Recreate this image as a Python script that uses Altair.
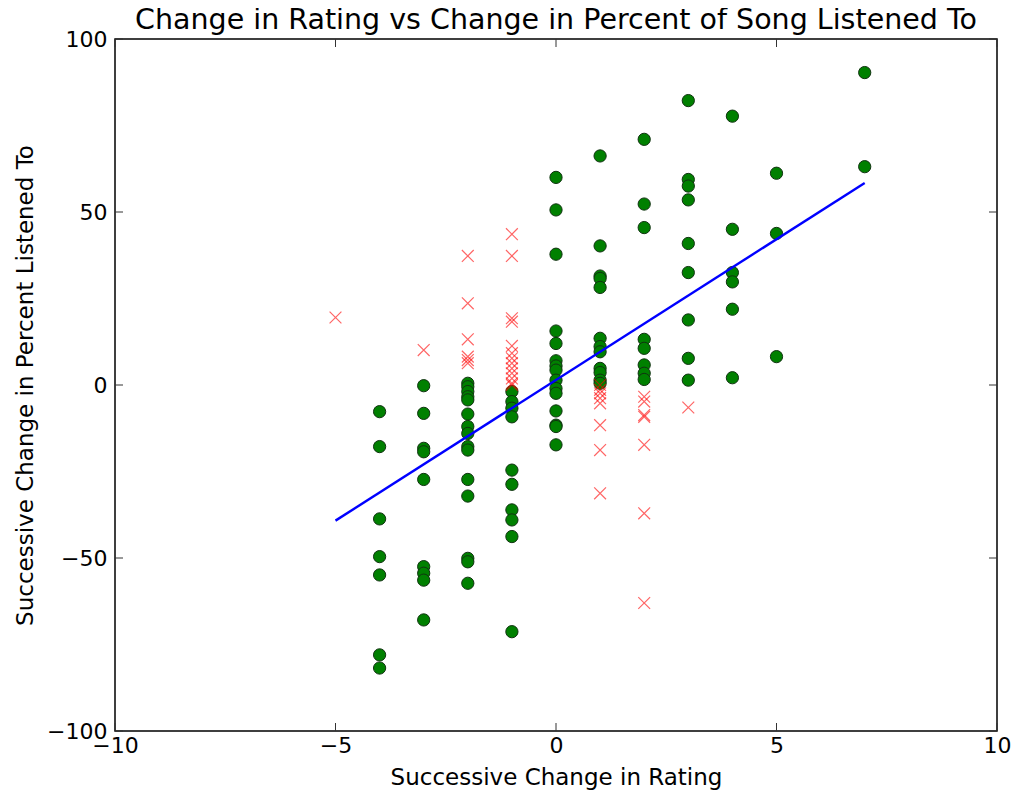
import altair as alt
import pandas as pd

# ---- data ----
green_x = ([-4] * 7 + [-3] * 9 + [-2] * 15 + [-1] * 10 + [0] * 15 + [1] * 12 +
           [2] * 8 + [3] * 9 + [4] * 6 + [5] * 3 + [7] * 2)
green_y = [
    -7.7, -17.8, -38.7, -49.6, -54.9, -78.0, -81.8,
    -0.2, -8.2, -18.3, -19.3, -27.3, -52.5, -54.4, -56.4, -67.9,
    0.5, -0.5, -1.9, -3.4, -4.3, -8.4, -12.0, -14.0, -17.8, -18.8, -27.3, -32.1, -50.1, -51.1, -57.3,
    -1.9, -4.8, -6.7, -9.2, -24.6, -28.7, -36.1, -39.0, -43.8, -71.3,
    60.0, 50.6, 37.8, 15.6, 12.0, 7.0, 5.5, 4.3, 1.4, -1.0, -2.4, -7.5, -11.6, -12.0, -17.3,
    66.2, 40.2, 31.5, 30.8, 28.2, 13.5, 11.1, 9.6, 4.8, 3.6, 1.4, 0.5,
    71.0, 52.3, 45.5, 13.2, 10.6, 5.8, 3.4, 1.6,
    82.2, 59.4, 57.5, 53.5, 40.9, 32.5, 18.8, 7.7, 1.4,
    77.7, 45.0, 32.5, 29.8, 21.9, 2.1,
    61.2, 43.8, 8.2,
    90.3, 63.1,
]

red_x = ([-5] + [-3] + [-2] * 6 + [-1] * 13 + [1] * 8 + [2] * 7 + [3])
red_y = [
    19.5,
    10.1,
    37.3, 23.6, 13.2, 8.2, 7.2, 6.3,
    43.6, 37.3, 19.3, 18.3, 11.3, 9.2, 7.7, 6.3, 4.8, 3.4, 1.9, 0.5, 0.0,
    0.0, -1.4, -2.4, -3.8, -5.3, -11.6, -18.8, -31.3,
    -3.4, -4.8, -8.7, -9.2, -17.3, -37.1, -63.0,
    -6.5,
]

fit_x = [-5, 7]
fit_y = [-39.2, 58.4]

x_ticks = [-10, -5, 0, 5, 10]
y_ticks = [-100, -50, 0, 50, 100]

W, H = 882, 692
TICK = 8
FONT = "DejaVu Sans"

green_df = pd.DataFrame({"x": green_x, "y": green_y})
red_df = pd.DataFrame({"x": red_x, "y": red_y})
fit_df = pd.DataFrame({"x": fit_x, "y": fit_y})
xt_df = pd.DataFrame({"x": x_ticks})
yt_df = pd.DataFrame({"y": y_ticks})

xscale = alt.Scale(domain=[-10, 10], nice=False, zero=False)
yscale = alt.Scale(domain=[-100, 100], nice=False, zero=False)

x_main = alt.Axis(values=x_ticks, tickSize=0, domain=False, grid=False,
                  labelFontSize=22, labelFont=FONT, labelColor="black",
                  labelPadding=4, title="Successive Change in Rating",
                  titleFontSize=23, titleFont=FONT, titleFontWeight="normal",
                  titleColor="black", titlePadding=10, labelFlush=False)
y_main = alt.Axis(values=y_ticks, tickSize=0, domain=False, grid=False,
                  labelFontSize=22, labelFont=FONT, labelColor="black",
                  labelPadding=8, title="Successive Change in Percent Listened To",
                  titleFontSize=23, titleFont=FONT, titleFontWeight="normal",
                  titleColor="black", titlePadding=9, labelFlush=False)

X = alt.X("x:Q", scale=xscale, axis=x_main)
Y = alt.Y("y:Q", scale=yscale, axis=y_main)

green = alt.Chart(green_df).mark_point(
    shape="circle", filled=True, fill="#008000", stroke="#113311",
    strokeWidth=1, size=150, opacity=1
).encode(x=X, y=Y)

red = alt.Chart(red_df).mark_point(
    shape="M-1,-1L1,1M-1,1L1,-1", filled=False, stroke="#ff0000",
    strokeWidth=1.2, size=140, opacity=0.6
).encode(x=X, y=Y)

line = alt.Chart(fit_df).mark_line(color="#0000ff", strokeWidth=2.4).encode(x=X, y=Y)

tick_style = dict(color="#333333", strokeWidth=1)
xt_bottom = alt.Chart(xt_df).mark_rule(**tick_style).encode(
    x=X, y=alt.value(H), y2=alt.value(H - TICK))
xt_top = alt.Chart(xt_df).mark_rule(**tick_style).encode(
    x=X, y=alt.value(0), y2=alt.value(TICK))
yt_left = alt.Chart(yt_df).mark_rule(**tick_style).encode(
    y=Y, x=alt.value(0), x2=alt.value(TICK))
yt_right = alt.Chart(yt_df).mark_rule(**tick_style).encode(
    y=Y, x=alt.value(W - TICK), x2=alt.value(W))

chart = alt.layer(
    green, xt_bottom, xt_top, yt_left, yt_right, line, red
).properties(
    width=W, height=H,
    autosize=alt.AutoSizeParams(type="none"),
    padding={"left": 107, "top": 31, "right": 14, "bottom": 60},
    background="white",
    title=alt.TitleParams(
        "Change in Rating vs Change in Percent of Song Listened To",
        fontSize=28.5, font=FONT, fontWeight="normal", color="black",
        anchor="middle", offset=-6,
    ),
).configure_view(
    stroke="black", strokeWidth=1.5
)

chart.save("out.html", embed_options={"renderer": "svg", "actions": False})
